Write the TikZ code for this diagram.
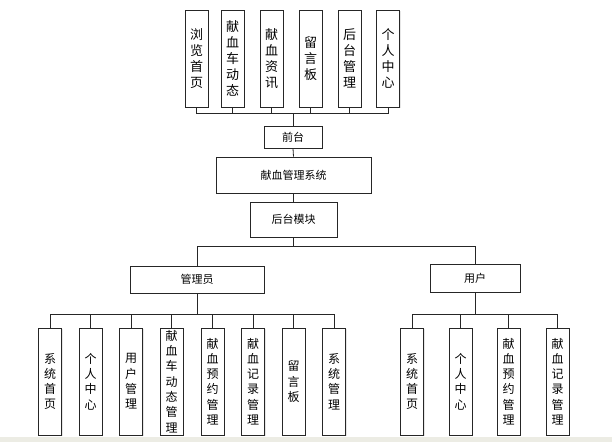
\documentclass[tikz,border=0pt]{standalone}
\usepackage{fontspec}
\setmainfont{Noto Sans CJK SC}
\usetikzlibrary{shadows}
\definecolor{stripgray}{RGB}{236,236,228}
\tikzset{
	hbox/.style={draw=black!85,line width=0.9pt,fill=white,inner sep=0pt,
		drop shadow={shadow xshift=1pt,shadow yshift=-1pt,opacity=0.2},
		font=\fontsize{11}{13}\selectfont},
	vbox/.style={hbox,minimum width=23pt,align=center},
	topv/.style={vbox,minimum height=97pt,font=\fontsize{13}{16}\selectfont},
	lowv/.style={vbox,minimum height=107pt,font=\fontsize{12}{15.3}\selectfont},
	link/.style={draw=black!85,line width=0.8pt}
}

\begin{document}
\begin{tikzpicture}[x=1pt,y=-1pt]
	\useasboundingbox (0,0) rectangle (612,442);
	\fill[stripgray] (0,437) rectangle (612,442);
	% front end
	\foreach \x/\n/\t in {196.5/1/{浏\\览\\首\\页},232.5/2/{献\\血\\车\\动\\态},
		271.5/3/{献\\血\\资\\讯},310.5/4/{留\\言\\板},349.5/5/{后\\台\\管\\理},388/6/{个\\人\\中\\心}}
		\node[topv] (q\n) at (\x,58.5) {\t};
	\node[hbox,minimum width=58pt,minimum height=22pt] (qt) at (293,137) {前台};
	\node[hbox,minimum width=155pt,minimum height=36pt] (xt) at (293.5,175) {献血管理系统};
	\node[hbox,minimum width=87pt,minimum height=35pt] (ht) at (293.5,219.5) {后台模块};
	\node[hbox,minimum width=134pt,minimum height=27pt] (gly) at (197,279.5) {管理员};
	\node[hbox,minimum width=90pt,minimum height=28pt] (yh) at (475,278) {用户};
	% admin modules
	\foreach \x/\n/\t in {50/1/{系\\统\\首\\页},90.5/2/{个\\人\\中\\心},131/3/{用\\户\\管\\理},
		171.5/4/{献\\血\\车\\动\\态\\管\\理},212.5/5/{献\\血\\预\\约\\管\\理},
		253/6/{献\\血\\记\\录\\管\\理},293.5/7/{留\\言\\板},334/8/{系\\统\\管\\理}}
		\node[lowv] (a\n) at (\x,381.5) {\t};
	% user modules
	\foreach \x/\n/\t in {412/1/{系\\统\\首\\页},460.5/2/{个\\人\\中\\心},
		508.5/3/{献\\血\\预\\约\\管\\理},557.5/4/{献\\血\\记\\录\\管\\理}}
		\node[lowv] (u\n) at (\x,381.5) {\t};
	% buses
	\coordinate (busq) at (293,113);
	\coordinate (bush) at (293.5,246);
	\coordinate (busa) at (197,314);
	\coordinate (busu) at (475,314);
	\foreach \n in {1,...,6} \draw[link] (q\n.south) |- (busq);
	\draw[link] (busq) -- (qt.north);
	\draw[link] (qt.south) -- (xt.north);
	\draw[link] (xt.south) -- (ht.north);
	\draw[link] (ht.south) -- (bush);
	\draw[link] (gly.north) |- (bush);
	\draw[link] (yh.north) |- (bush);
	\draw[link] (gly.south) -- (busa);
	\foreach \n in {1,...,8} \draw[link] (a\n.north) |- (busa);
	\draw[link] (yh.south) -- (busu);
	\foreach \n in {1,...,4} \draw[link] (u\n.north) |- (busu);
\end{tikzpicture}
\end{document}
